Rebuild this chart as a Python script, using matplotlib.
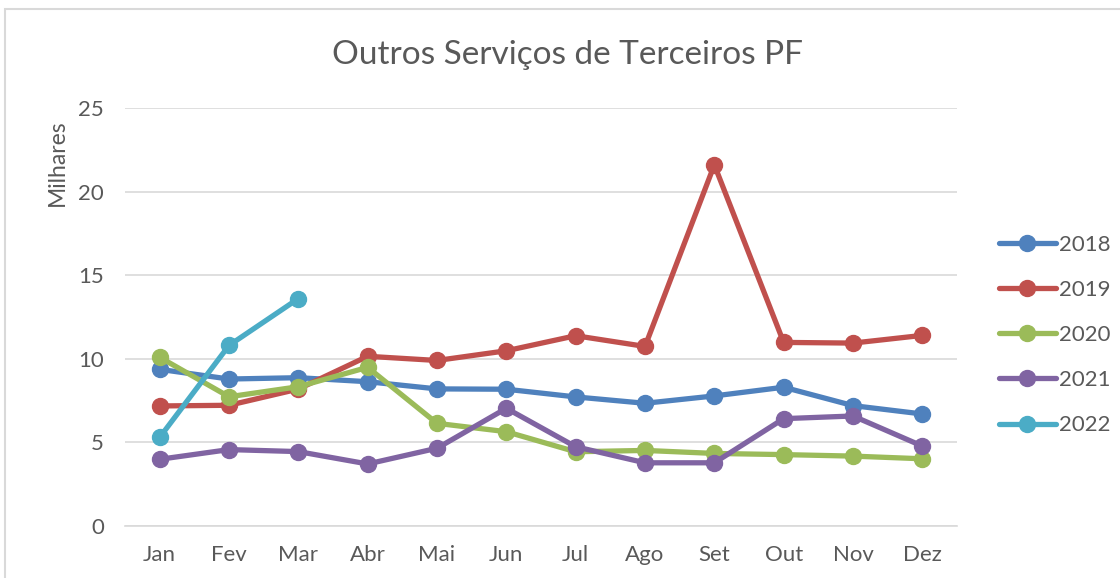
import matplotlib
matplotlib.use("Agg")
import matplotlib.pyplot as plt
from matplotlib.patches import Rectangle

months = ["Jan", "Fev", "Mar", "Abr", "Mai", "Jun", "Jul", "Ago", "Set", "Out", "Nov", "Dez"]
s2018 = [9.37, 8.79, 8.87, 8.63, 8.2, 8.18, 7.72, 7.34, 7.78, 8.3, 7.2, 6.7]
s2019 = [7.18, 7.22, 8.19, 10.15, 9.9, 10.48, 11.38, 10.74, 21.6, 10.98, 10.94, 11.4]
s2020 = [10.09, 7.73, 8.33, 9.49, 6.14, 5.64, 4.44, 4.52, 4.34, 4.27, 4.18, 4.02]
s2021 = [3.99, 4.57, 4.45, 3.71, 4.65, 7.04, 4.74, 3.78, 3.78, 6.42, 6.58, 4.78]
s2022 = [5.3, 10.8, 13.6]
series_names = ["2018", "2019", "2020", "2021", "2022"]
series_vals = [s2018, s2019, s2020, s2021, s2022]
colors = ["#4F81BD", "#C0504D", "#9BBB59", "#8064A2", "#4BACC6"]
yticks = [0, 5, 10, 15, 20, 25]

plt.rcParams['font.family'] = ['Lato', 'DejaVu Sans']
txt = "#595959"
grid = "#D9D9D9"

fig = plt.figure(figsize=(11.2, 5.78), dpi=100)
W, H = 1120, 578
ax = fig.add_axes([125 / W, 1 - 526 / H, 832 / W, 418 / H])

x = list(range(len(months)))
for name, vals, c in zip(series_names, series_vals, colors):
    ax.plot(x[:len(vals)], vals, color=c, lw=3.8, marker='o', markersize=11.5,
            label=name, solid_capstyle='round', solid_joinstyle='round', zorder=3)

ax.set_xlim(-0.5, 11.5)
ax.set_ylim(0, 25)
ax.set_yticks(yticks)
ax.set_xticks(x)
ax.set_xticklabels(months)
ax.yaxis.grid(True, color=grid, lw=1.2)
ax.set_axisbelow(True)
for s in ["top", "right", "left"]:
    ax.spines[s].set_visible(False)
ax.spines["bottom"].set_color(grid)
ax.spines["bottom"].set_linewidth(1.2)
ax.tick_params(length=0, labelsize=16, colors=txt)
ax.tick_params(axis='x', pad=14)
ax.tick_params(axis='y', pad=15)

fig.text(568 / W, 1 - 55 / H, "Outros Serviços de Terceiros PF", ha='center', va='center',
         fontsize=24, color=txt)
fig.text(57 / W, 1 - 163 / H, "Milhares", ha='center', va='center', rotation=90,
         fontsize=16.5, color=txt)

leg = fig.legend(loc='upper left', bbox_to_anchor=(990 / W, 1 - 226 / H), frameon=False,
                 fontsize=16, handlelength=2.55, handletextpad=0.15, labelspacing=1.13,
                 borderaxespad=0)
for t in leg.get_texts():
    t.set_color(txt)

fig.patches.append(Rectangle((5 / W, -0.1), 1.2, 1 - 9 / H + 0.1, transform=fig.transFigure,
                             fill=False, edgecolor=grid, lw=1.5))

fig.savefig("out.png", dpi=100)
